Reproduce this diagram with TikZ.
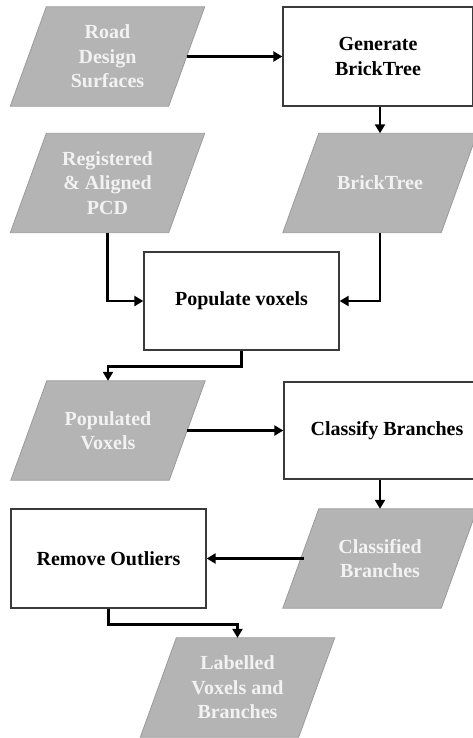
\documentclass[tikz,border=0pt]{standalone}
\usepackage{fontspec}
\setmainfont{Liberation Serif}
\usetikzlibrary{arrows.meta,backgrounds,calc}
\definecolor{datagray}{HTML}{B4B4B4}
\definecolor{dataedge}{HTML}{9A9A9A}
\definecolor{datatextc}{HTML}{F2F2F2}
\definecolor{procedge}{HTML}{3A3A3A}
\tikzset{
  procbox/.style={draw=procedge, line width=1.3pt, fill=white, minimum width=195pt, minimum height=98pt, inner sep=0pt, align=center, font=\bfseries\fontsize{20}{24.5}\selectfont, text=black},
  databox/.style={minimum width=158pt, minimum height=99pt, inner sep=0pt, align=center, font=\bfseries\fontsize{20}{24.5}\selectfont, text=datatextc},
  datashape/.style={fill=datagray, draw=dataedge, line width=0.8pt},
  flow/.style={line width=2.8pt, -{Triangle[length=9pt,width=10pt]}}
}
\newcommand\datanode[4]{%
  \node[databox] (#1) at (#2,#3) {#4};
  \begin{pgfonlayer}{background}
    \path[datashape] ([xshift=18pt]#1.north west) -- ([xshift=18pt]#1.north east) -- ([xshift=-18pt]#1.south east) -- ([xshift=-18pt]#1.south west) -- cycle;
  \end{pgfonlayer}}
\begin{document}
\begin{tikzpicture}[x=1pt,y=-1pt]
\useasboundingbox (0,0) rectangle (473,738);
% data (parallelogram) nodes
\datanode{road}{107.5}{56.5}{Road\\Design\\Surfaces}
\datanode{reg}{107.5}{183}{Registered\\\& Aligned\\PCD}
\datanode{bt}{380}{183}{BrickTree}
\datanode{popd}{108}{430.5}{Populated\\Voxels}
\datanode{cls}{380}{558.5}{Classified\\Branches}
\datanode{lab}{237.5}{687.5}{Labelled\\Voxels and\\Branches}
% process nodes
\node[procbox, minimum width=190pt, minimum height=99pt] (gen) at (378,56.5) {Generate\\BrickTree};
\node[procbox] (pop) at (241.5,301) {Populate voxels};
\node[procbox, minimum width=190pt, minimum height=97pt] (clb) at (379,430.5) {\hspace*{16pt}Classify Branches};
\node[procbox, minimum height=99pt] (rem) at (108.5,558.5) {Remove Outliers};
% connectors
\draw[flow] (road.east) -- (gen.west);
\draw[flow] (gen.south -| bt.north) -- (bt.north);
\draw[flow] (reg.south) |- (pop.west);
\draw[flow] (bt.south) |- (pop.east);
\draw[flow] (pop.south) -- ++(0,16) -| (popd.north);
\draw[flow] (popd.east) -- (clb.west);
\draw[flow] (clb.south -| cls.north) -- (cls.north);
\draw[flow] ([xshift=3pt]cls.west) -- (rem.east);
\draw[flow] (rem.south) -- ++(0,16) -| (lab.north);
\end{tikzpicture}
\end{document}
